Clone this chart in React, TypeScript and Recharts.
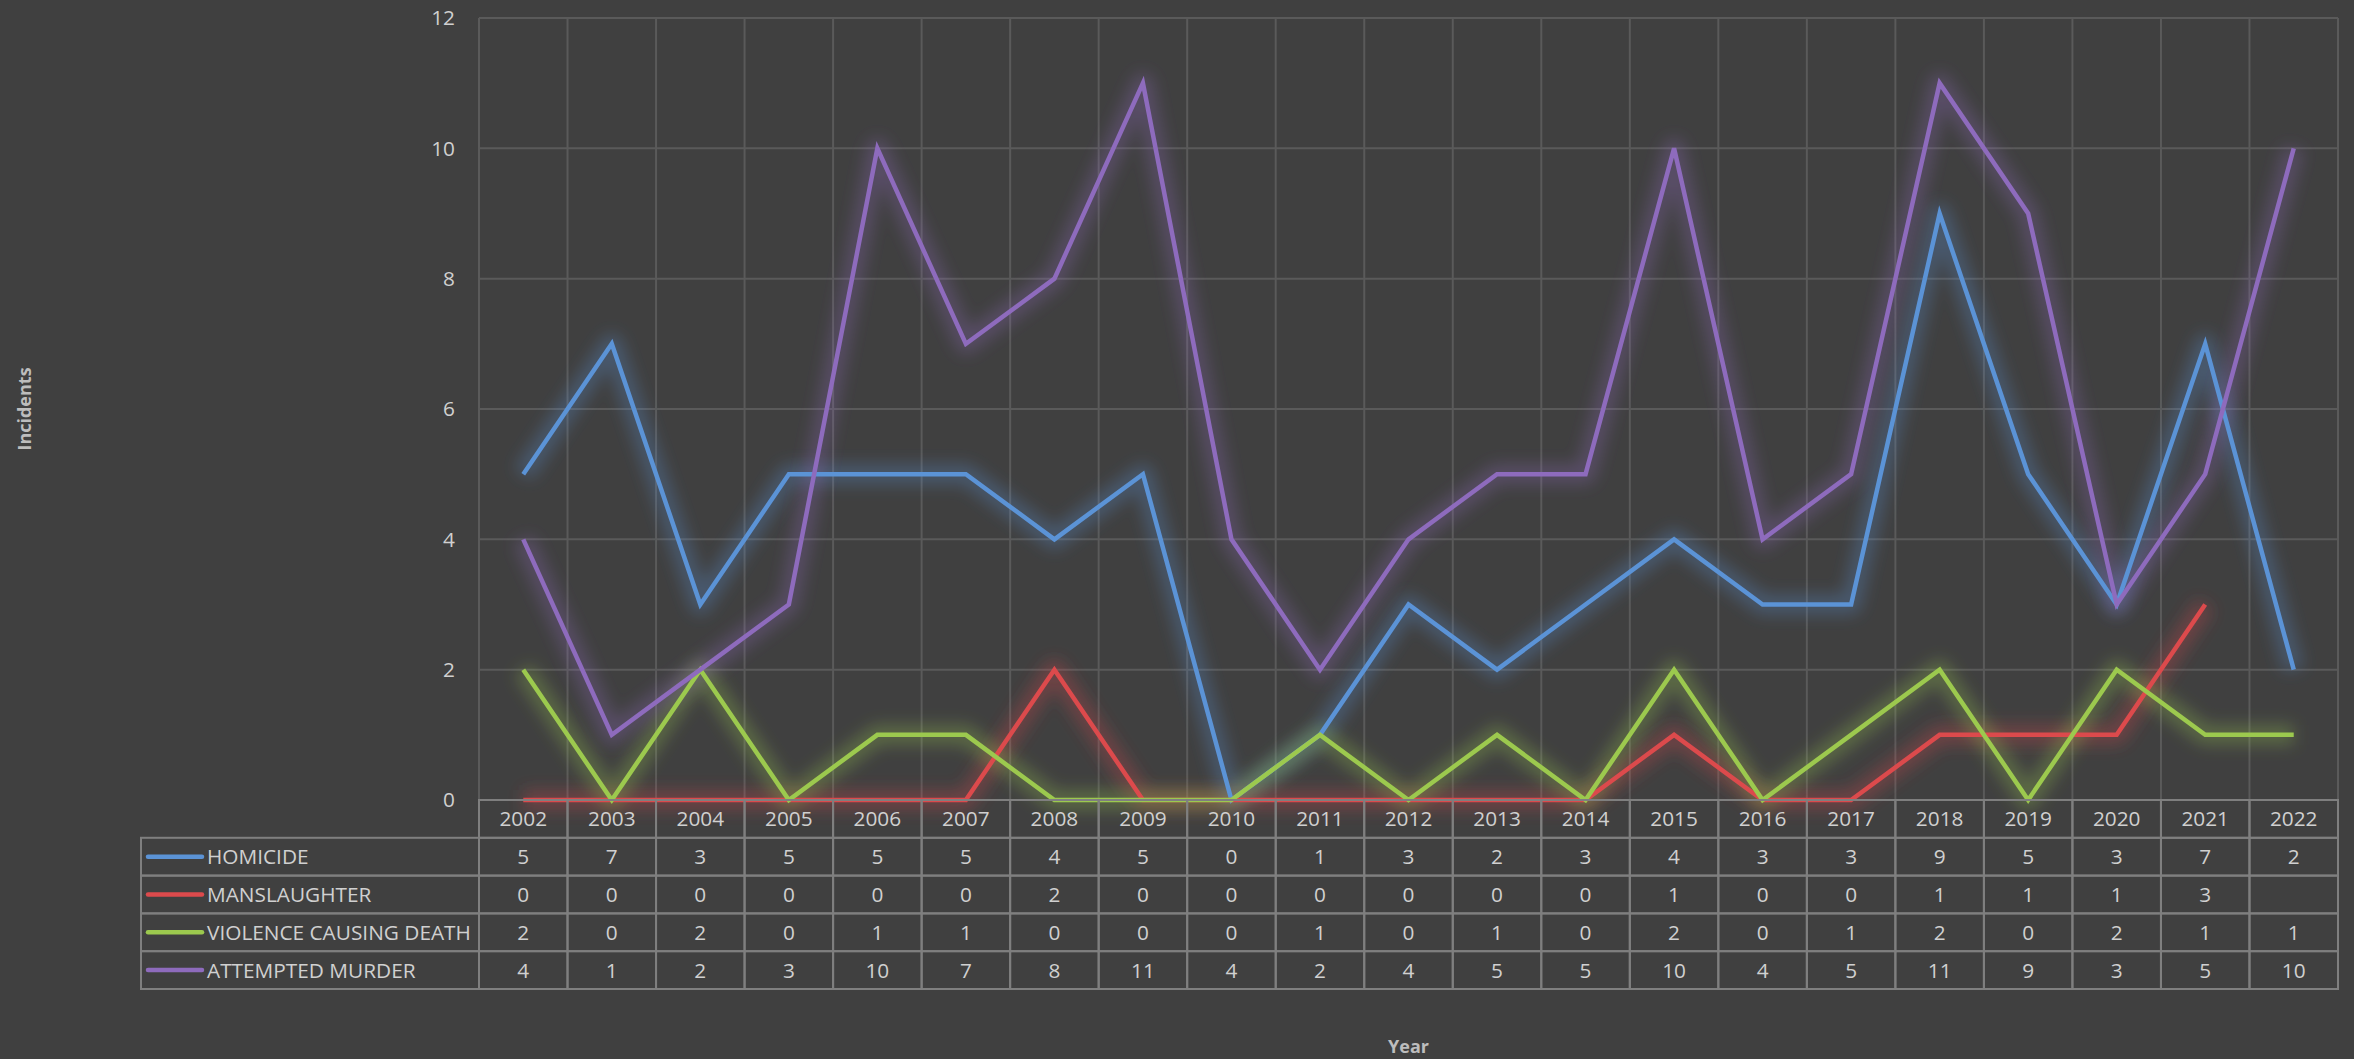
import { CartesianGrid, Line, LineChart, XAxis, YAxis } from 'recharts'

const years = ['2002', '2003', '2004', '2005', '2006', '2007', '2008', '2009', '2010', '2011', '2012', '2013', '2014', '2015', '2016', '2017', '2018', '2019', '2020', '2021', '2022']
const homicide = [5, 7, 3, 5, 5, 5, 4, 5, 0, 1, 3, 2, 3, 4, 3, 3, 9, 5, 3, 7, 2]
const manslaughter = [0, 0, 0, 0, 0, 0, 2, 0, 0, 0, 0, 0, 0, 1, 0, 0, 1, 1, 1, 3, null]
const violenceCausingDeath = [2, 0, 2, 0, 1, 1, 0, 0, 0, 1, 0, 1, 0, 2, 0, 1, 2, 0, 2, 1, 1]
const attemptedMurder = [4, 1, 2, 3, 10, 7, 8, 11, 4, 2, 4, 5, 5, 10, 4, 5, 11, 9, 3, 5, 10]
const yTicks = [0, 2, 4, 6, 8, 10, 12]

const series = [
  { key: 'homicide', name: 'HOMICIDE', color: '#5b93d6', values: homicide },
  { key: 'manslaughter', name: 'MANSLAUGHTER', color: '#dc4a4c', values: manslaughter },
  { key: 'violence', name: 'VIOLENCE CAUSING DEATH', color: '#9cc94e', values: violenceCausingDeath },
  { key: 'attempted', name: 'ATTEMPTED MURDER', color: '#8e6bbd', values: attemptedMurder },
]

const data = years.map((year, i) => {
  const row: Record<string, string | number | null> = { year }
  series.forEach((s) => {
    row[s.key] = s.values[i]
  })
  return row
})

const W = 2354
const H = 1059
const PLOT_LEFT = 479
const PLOT_RIGHT = 2338
const PLOT_TOP = 18
const PLOT_BOTTOM = 800
const PLOT_W = PLOT_RIGHT - PLOT_LEFT
const ROW_H = 37.8
const TABLE_LEFT = 141
const FONT = '"Open Sans", sans-serif'
const FS = 20.8
const TEXT = '#d0d0d0'
const BORDER = '#7f7f7f'

function TableTick(props: any) {
  const { x, y, index, payload } = props
  const bw = PLOT_W / years.length
  const left = x - bw / 2
  const cells = []
  cells.push(
    <g key="h">
      <rect x={left} y={y} width={bw} height={ROW_H} fill="none" stroke={BORDER} strokeWidth={2} />
      <text x={x} y={y + ROW_H / 2 + 7.5} textAnchor="middle" fill={TEXT} fontSize={FS} fontFamily={FONT}>
        {payload.value}
      </text>
    </g>,
  )
  series.forEach((s, r) => {
    const top = y + ROW_H * (r + 1)
    const v = s.values[index]
    cells.push(
      <g key={s.key}>
        <rect x={left} y={top} width={bw} height={ROW_H} fill="none" stroke={BORDER} strokeWidth={2} />
        <text x={x} y={top + ROW_H / 2 + 7.5} textAnchor="middle" fill={TEXT} fontSize={FS} fontFamily={FONT}>
          {v === null ? '' : v}
        </text>
      </g>,
    )
    // legend column, drawn once with the first column
    if (index === 0) {
      cells.push(
        <g key={s.key + '-lg'}>
          <rect x={TABLE_LEFT} y={top} width={left - TABLE_LEFT} height={ROW_H} fill="none" stroke={BORDER} strokeWidth={2} />
          <line x1={TABLE_LEFT + 7} x2={TABLE_LEFT + 61} y1={top + ROW_H / 2} y2={top + ROW_H / 2} stroke={s.color} strokeWidth={4.5} strokeLinecap="round" />
          <text x={TABLE_LEFT + 66} y={top + ROW_H / 2 + 7.5} fill={TEXT} fontSize={FS} fontFamily={FONT}>
            {s.name}
          </text>
        </g>,
      )
    }
  })
  return <g>{cells}</g>
}

export default function App() {
  return (
    <div style={{ position: 'absolute', left: 0, top: 0, width: W, height: H, background: '#404040', overflow: 'hidden' }}>
      <LineChart
        width={W}
        height={H}
        data={data}
        margin={{ top: PLOT_TOP, right: W - PLOT_RIGHT, left: PLOT_LEFT - 60, bottom: H - PLOT_BOTTOM - 220 }}
      >
        <defs>
          <filter id="glow" filterUnits="userSpaceOnUse" x={0} y={0} width={W} height={H}>
            <feGaussianBlur stdDeviation={8} />
          </filter>
        </defs>
        <CartesianGrid
          stroke="#5a5a5a"
          strokeWidth={2}
          verticalCoordinatesGenerator={({ offset }: any) =>
            years.map((_, i) => offset.left + (offset.width * i) / years.length).concat(offset.left + offset.width)
          }
        />
        <XAxis
          dataKey="year"
          scale="band"
          height={220}
          interval={0}
          tickSize={0}
          tickMargin={0}
          tickLine={false}
          axisLine={false}
          tick={<TableTick />}
        />
        <YAxis
          width={60}
          domain={[0, 12]}
          ticks={yTicks}
          tickSize={0}
          tickMargin={24}
          axisLine={false}
          tickLine={false}
          tick={{ fill: TEXT, fontSize: FS, fontFamily: FONT }}
        />
        {series.map((s) => (
          <Line
            key={s.key + '-glow'}
            dataKey={s.key}
            stroke={s.color}
            strokeWidth={20}
            strokeOpacity={0.3}
            strokeLinejoin="round"
            filter="url(#glow)"
            dot={false}
            activeDot={false}
            legendType="none"
            isAnimationActive={false}
          />
        ))}
        {series.map((s) => (
          <Line
            key={s.key}
            dataKey={s.key}
            name={s.name}
            stroke={s.color}
            strokeWidth={4.5}
            dot={false}
            activeDot={false}
            isAnimationActive={false}
          />
        ))}
      </LineChart>
      <div
        style={{
          position: 'absolute',
          left: 24,
          top: (PLOT_TOP + PLOT_BOTTOM) / 2,
          transform: 'translate(-50%, -50%) rotate(-90deg)',
          color: '#bdbdbd',
          fontFamily: FONT,
          fontWeight: 700,
          fontSize: 18,
          whiteSpace: 'nowrap',
        }}
      >
        Incidents
      </div>
      <div
        style={{
          position: 'absolute',
          left: (PLOT_LEFT + PLOT_RIGHT) / 2,
          top: 1046,
          transform: 'translate(-50%, -50%)',
          color: '#bdbdbd',
          fontFamily: FONT,
          fontWeight: 700,
          fontSize: 18,
          whiteSpace: 'nowrap',
        }}
      >
        Year
      </div>
    </div>
  )
}
